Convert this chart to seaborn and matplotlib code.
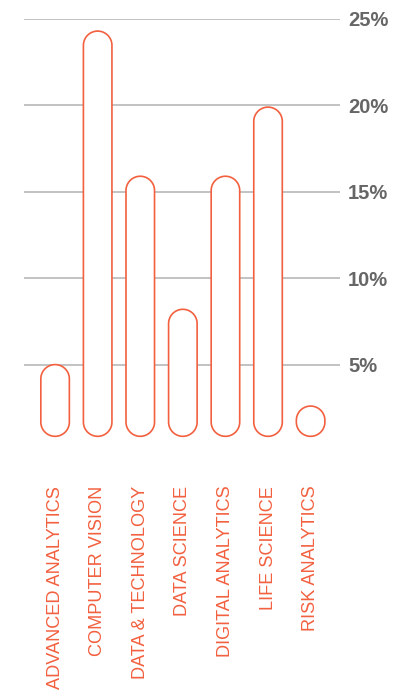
import matplotlib
matplotlib.use("Agg")
import matplotlib.pyplot as plt
import seaborn as sns
import pandas as pd
import numpy as np
from matplotlib.patches import PathPatch
from matplotlib.path import Path

categories = ["ADVANCED ANALYTICS", "COMPUTER VISION", "DATA & TECHNOLOGY",
              "DATA SCIENCE", "DIGITAL ANALYTICS", "LIFE SCIENCE", "RISK ANALYTICS"]
values = [5.0, 24.3, 15.9, 8.2, 15.9, 19.9, 2.6]
bar_base = 0.85
y_ticks = [5, 10, 15, 20, 25]
y_tick_labels = ["5%", "10%", "15%", "20%", "25%"]

RED = "#F2603F"
GRID = "#BDBDBD"
TXT = "#666666"

sns.set_theme(style="white")
plt.rcParams['font.family'] = ['Liberation Sans', 'DejaVu Sans']

W, H = 418, 697
fig = plt.figure(figsize=(W / 100, H / 100), dpi=100)
ax = fig.add_axes([24 / W, (H - 451) / H, (340 - 24) / W, (451 - 19) / H])

df = pd.DataFrame({"cat": categories, "val": values})
sns.barplot(data=df, x="cat", y="val", ax=ax, width=0.67, color="white")

ax.set_xlim(-0.73, 6.69)
ax.set_ylim(0, 25)

# convert bars into rounded pills (true semicircular caps)
fig.canvas.draw()
bbox = ax.get_window_extent()
px_per_x = bbox.width / (ax.get_xlim()[1] - ax.get_xlim()[0])
px_per_y = bbox.height / (ax.get_ylim()[1] - ax.get_ylim()[0])
aspect = px_per_x / px_per_y

patches = list(ax.patches)
for p in patches:
    x0 = p.get_x()
    w = p.get_width()
    top = p.get_height()
    p.remove()
    cx = x0 + w / 2
    rx = w / 2
    ry = rx * aspect
    yt = top - ry
    yb = bar_base + ry
    if yt < yb:
        yt = yb = (top + bar_base) / 2
    t1 = np.linspace(0, np.pi, 60)
    t2 = np.linspace(np.pi, 2 * np.pi, 60)
    xs = np.concatenate([cx + rx * np.cos(t1), cx + rx * np.cos(t2)])
    ys = np.concatenate([yt + ry * np.sin(t1), yb + ry * np.sin(t2)])
    verts = np.column_stack([xs, ys])
    verts = np.vstack([verts, verts[:1]])
    codes = [Path.MOVETO] + [Path.LINETO] * (len(verts) - 2) + [Path.CLOSEPOLY]
    ax.add_patch(PathPatch(Path(verts, codes), facecolor="white",
                           edgecolor=RED, linewidth=1.2, zorder=3))

ax.yaxis.tick_right()
ax.set_yticks(y_ticks)
ax.set_yticklabels(y_tick_labels, fontsize=14.5, fontweight="bold", color=TXT)
ax.tick_params(axis="y", length=0, pad=5.8)
ax.grid(axis="y", color=GRID, linewidth=1.3)
ax.grid(axis="x", visible=False)
ax.set_axisbelow(True)

ax.tick_params(axis="x", length=0, pad=25)
for lbl in ax.get_xticklabels():
    lbl.set_rotation(90)
    lbl.set_color(RED)
    lbl.set_fontsize(13.1)
    lbl.set_va("top")
    lbl.set_ha("center")

ax.set_xlabel("")
ax.set_ylabel("")
for s in ax.spines.values():
    s.set_visible(False)

fig.savefig("out.png", dpi=100)
